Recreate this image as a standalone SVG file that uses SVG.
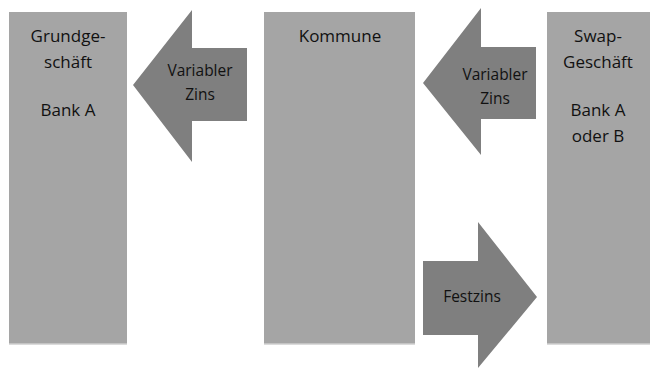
<svg xmlns="http://www.w3.org/2000/svg" width="650" height="369" viewBox="0 0 650 369">
  <style>
    .box { fill: #a5a5a5; }
    .edge { stroke: #cfcfcf; stroke-width: 1.5; }
    .arrow { fill: #7f7f7f; }
    .t { font-family: "Open Sans", "Liberation Sans", sans-serif; font-size: 17px; fill: #111; text-anchor: middle; }
    .ta { font-family: "Open Sans", "Liberation Sans", sans-serif; font-size: 15.5px; fill: #111; text-anchor: middle; }
  </style>
  <rect width="650" height="369" fill="#ffffff"/>
  <g id="grundgeschaeft">
    <rect class="box" x="9" y="12" width="118" height="332"/>
    <line class="edge" x1="9" y1="344" x2="127" y2="344"/>
    <text class="t" x="68" y="42">Grundge-</text>
    <text class="t" x="68" y="68">schäft</text>
    <text class="t" x="68" y="116">Bank A</text>
  </g>
  <g id="kommune">
    <rect class="box" x="264" y="12" width="151" height="332"/>
    <line class="edge" x1="264" y1="344" x2="415" y2="344"/>
    <text class="t" x="340" y="42">Kommune</text>
  </g>
  <g id="swapgeschaeft">
    <rect class="box" x="547" y="12" width="103" height="332"/>
    <line class="edge" x1="547" y1="344" x2="650" y2="344"/>
    <text class="t" x="598" y="42">Swap-</text>
    <text class="t" x="598" y="68">Geschäft</text>
    <text class="t" x="598" y="116">Bank A</text>
    <text class="t" x="598" y="142">oder B</text>
  </g>
  <g id="connectors">
    <g id="arrow-variabler-zins-1">
      <polygon class="arrow" points="133,85 192,10 192,48 247,48 247,121 192,121 192,162"/>
      <text class="ta" x="200" y="76">Variabler</text>
      <text class="ta" x="200" y="100">Zins</text>
    </g>
    <g id="arrow-variabler-zins-2">
      <polygon class="arrow" points="423,83 481,8 481,47 536,47 536,119 481,119 481,155"/>
      <text class="ta" x="495" y="80">Variabler</text>
      <text class="ta" x="495" y="104">Zins</text>
    </g>
    <g id="arrow-festzins">
      <polygon class="arrow" points="423,261 478,261 478,222 537,297 478,368 478,335 423,335"/>
      <text class="ta" x="472" y="302">Festzins</text>
    </g>
  </g>
</svg>
